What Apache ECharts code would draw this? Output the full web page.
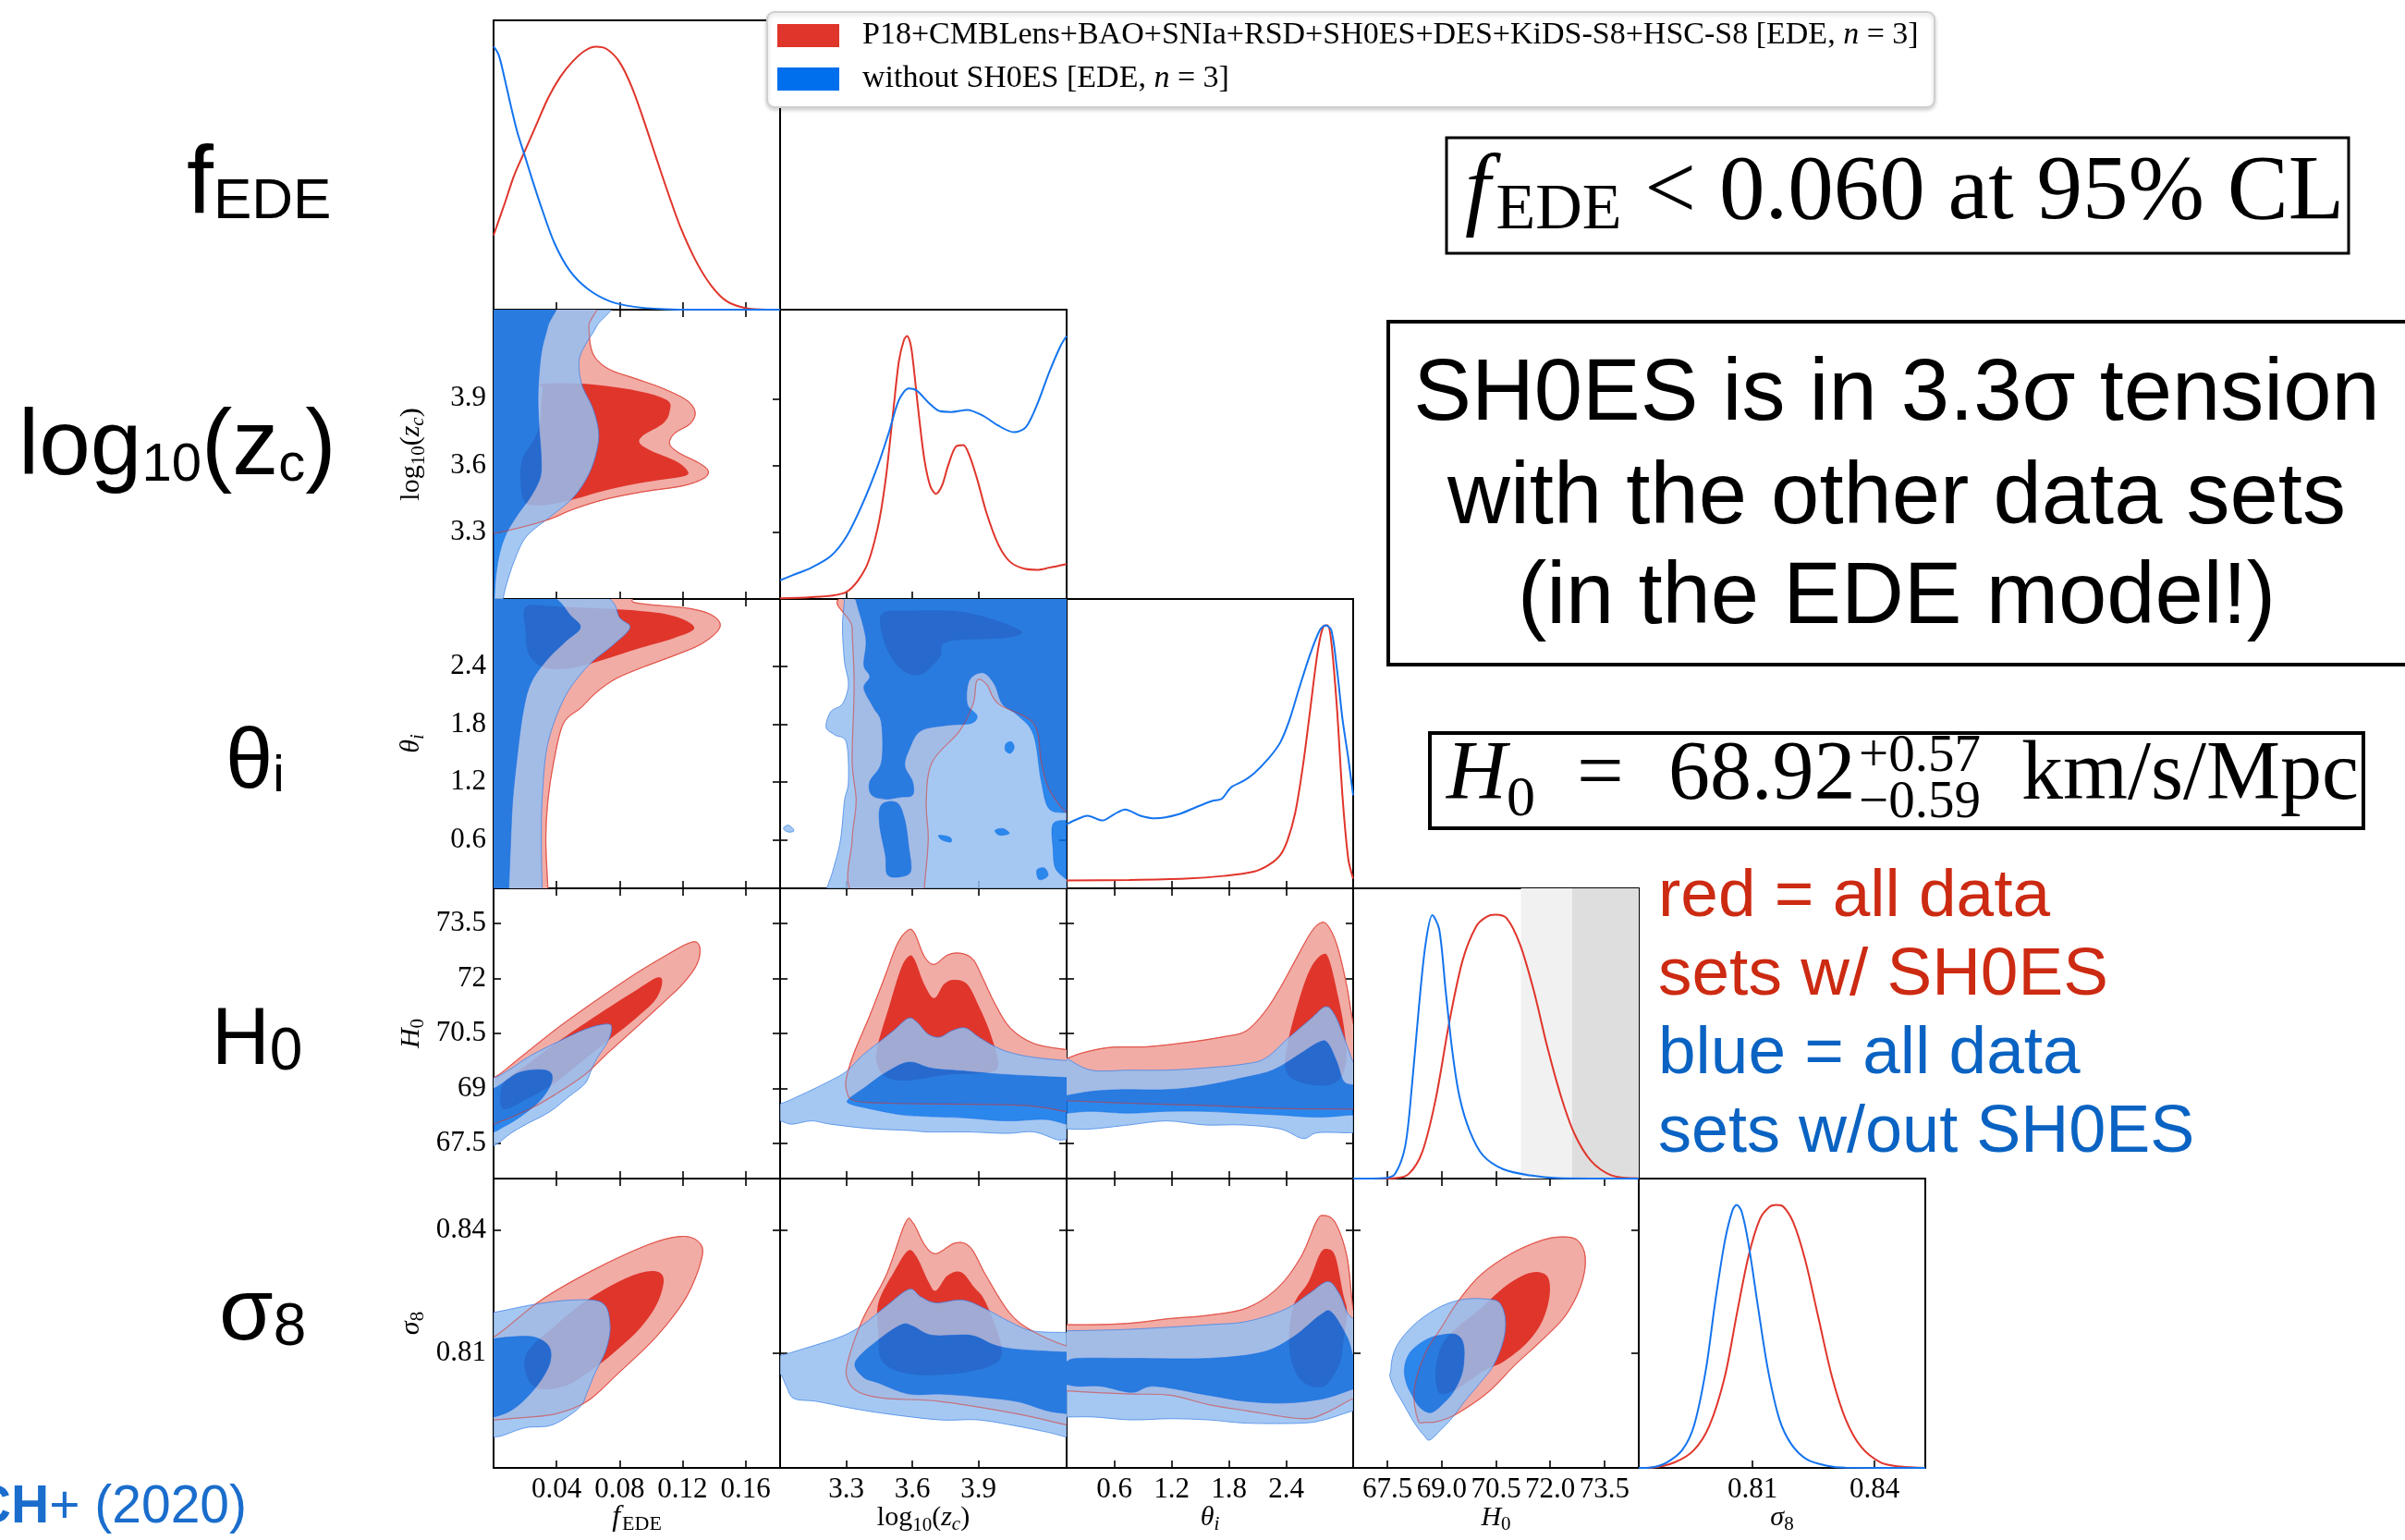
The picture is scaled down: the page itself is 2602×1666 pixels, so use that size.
<!DOCTYPE html>
<html>
<head>
<meta charset="utf-8">
<title>EDE triangle plot</title>
<script src="https://cdn.jsdelivr.net/npm/echarts@6/dist/echarts.min.js"></script>
<style>
  html, body { margin: 0; padding: 0; background: #ffffff; }
  #chart { width: 2602px; height: 1666px; }
</style>
</head>
<body>
<div id="chart"></div>
<script>
// ---------------------------------------------------------------------------
// Parameters, ranges and ticks
// ---------------------------------------------------------------------------
const PARAMS = ['fEDE', 'log10zc', 'thetai', 'H0', 'sigma8'];
const RANGE_MIN = [0, 3.0, 0.1, 66.55, 0.782];
const RANGE_MAX = [0.182, 4.3, 3.1, 74.45, 0.8525];
const DENSITY_MAX = 1.1;

const TICKS_FEDE = [0.04, 0.08, 0.12, 0.16];
const TICKS_LOGZC = [3.3, 3.6, 3.9];
const TICKS_THETA = [0.6, 1.2, 1.8, 2.4];
const TICKS_H0 = [67.5, 69.0, 70.5, 72.0, 73.5];
const TICKS_S8 = [0.81, 0.84];

const XLABELS_FEDE = ['0.04', '0.08', '0.12', '0.16'];
const XLABELS_LOGZC = ['3.3', '3.6', '3.9'];
const XLABELS_THETA = ['0.6', '1.2', '1.8', '2.4'];
const XLABELS_H0 = ['67.5', '69.0', '70.5', '72.0', '73.5'];
const XLABELS_S8 = ['0.81', '0.84'];
const YLABELS_H0 = ['67.5', '69', '70.5', '72', '73.5'];

// SH0ES measurement shown as grey bands on the H0 marginal
const SHOES_H0 = 74.03;
const SHOES_SIGMA = 1.42;

// ---------------------------------------------------------------------------
// 1D marginal posteriors (normalised to peak = 1)
// ---------------------------------------------------------------------------
const fede_red = [[0,0.283],[0.0072,0.406],[0.0131,0.511],[0.020,0.605],[0.0268,0.698],[0.0346,0.804],[0.0425,0.886],[0.0503,0.944],[0.0581,0.985],[0.065,1.0],[0.0718,0.991],[0.0797,0.944],[0.0875,0.851],[0.0953,0.722],[0.1031,0.581],[0.111,0.441],[0.1188,0.312],[0.1286,0.184],[0.1384,0.090],[0.1481,0.032],[0.160,0.006],[0.1736,0.0],[0.182,0.0]];
const fede_blue = [[0,1.0],[0.0033,0.968],[0.0072,0.874],[0.0112,0.769],[0.0151,0.675],[0.020,0.582],[0.0249,0.488],[0.0307,0.383],[0.0386,0.254],[0.0483,0.149],[0.060,0.078],[0.0738,0.032],[0.0894,0.011],[0.109,0.002],[0.1286,0.0],[0.182,0.0]];

const logzc_red = [[3.0,0.003],[3.1415,0.007],[3.3007,0.027],[3.389,0.119],[3.442,0.267],[3.4775,0.445],[3.513,0.711],[3.539,0.904],[3.562,0.985],[3.576,1.0],[3.59,0.975],[3.601,0.919],[3.628,0.711],[3.654,0.534],[3.681,0.43],[3.707,0.40],[3.734,0.43],[3.761,0.504],[3.796,0.578],[3.831,0.585],[3.858,0.548],[3.893,0.459],[3.937,0.326],[3.99,0.207],[4.044,0.141],[4.114,0.114],[4.167,0.111],[4.22,0.119],[4.3,0.133]];
const logzc_blue = [[3.0,0.071],[3.053,0.089],[3.142,0.119],[3.23,0.163],[3.301,0.237],[3.371,0.356],[3.442,0.504],[3.495,0.637],[3.539,0.756],[3.584,0.80],[3.619,0.793],[3.672,0.748],[3.725,0.714],[3.778,0.711],[3.849,0.719],[3.92,0.697],[3.99,0.659],[4.061,0.634],[4.114,0.652],[4.167,0.741],[4.22,0.86],[4.273,0.963],[4.3,1.0]];

const theta_red = [[0.1,0.030],[0.753,0.032],[1.347,0.037],[1.742,0.047],[2.059,0.063],[2.217,0.089],[2.336,0.126],[2.415,0.185],[2.494,0.288],[2.574,0.465],[2.653,0.687],[2.732,0.908],[2.791,0.997],[2.831,1.0],[2.871,0.938],[2.930,0.687],[2.989,0.347],[3.049,0.111],[3.1,0.037]];
const theta_blue = [[0.1,0.244],[0.199,0.261],[0.318,0.276],[0.476,0.258],[0.595,0.281],[0.713,0.300],[0.872,0.276],[1.030,0.266],[1.268,0.281],[1.465,0.310],[1.624,0.332],[1.723,0.340],[1.822,0.384],[1.940,0.406],[2.059,0.436],[2.217,0.495],[2.336,0.554],[2.435,0.642],[2.534,0.760],[2.653,0.893],[2.752,0.982],[2.811,1.0],[2.871,0.982],[2.930,0.834],[2.989,0.642],[3.049,0.495],[3.1,0.354]];

const h0_red = [[66.55,0],[67.71,0.002],[68.09,0.018],[68.46,0.10],[68.83,0.299],[69.21,0.593],[69.58,0.828],[69.96,0.957],[70.24,0.992],[70.48,1.0],[70.80,0.986],[71.17,0.886],[71.55,0.71],[71.92,0.499],[72.30,0.311],[72.67,0.17],[73.14,0.065],[73.70,0.012],[74.45,0.001]];
const h0_blue = [[66.55,0],[67.43,0.002],[67.71,0.018],[67.99,0.123],[68.18,0.358],[68.37,0.652],[68.55,0.886],[68.74,0.998],[68.93,0.945],[69.11,0.71],[69.30,0.475],[69.49,0.311],[69.77,0.182],[70.14,0.088],[70.71,0.035],[71.45,0.012],[72.2,0.002],[74.45,0]];

const s8_red = [[0.782,0],[0.7851,0.001],[0.7908,0.021],[0.7956,0.068],[0.7994,0.161],[0.8032,0.349],[0.8061,0.583],[0.809,0.805],[0.8118,0.946],[0.8142,0.993],[0.8159,1.0],[0.8176,0.993],[0.82,0.934],[0.8229,0.793],[0.8262,0.571],[0.8295,0.349],[0.8329,0.185],[0.8367,0.08],[0.8415,0.021],[0.8463,0.005],[0.8525,0]];
const s8_blue = [[0.782,0],[0.7851,0.002],[0.7889,0.021],[0.7927,0.068],[0.7956,0.161],[0.7985,0.372],[0.8008,0.63],[0.8032,0.864],[0.8051,0.981],[0.8061,1.0],[0.8073,0.975],[0.809,0.852],[0.8114,0.606],[0.8138,0.372],[0.8166,0.185],[0.8195,0.091],[0.8233,0.033],[0.8281,0.009],[0.8329,0.001],[0.8525,0]];

// ---------------------------------------------------------------------------
// 2D credible regions (68% and 95% contours), vertices in parameter space
// ---------------------------------------------------------------------------
// fEDE vs log10(zc)
const fede_logzc_red95 = [[-0.01,4.35],[0.0618,4.35],[0.0605,4.226],[0.063,4.104],[0.0729,4.034],[0.0903,3.99],[0.1076,3.946],[0.1225,3.894],[0.128,3.841],[0.125,3.788],[0.1151,3.745],[0.1118,3.697],[0.1176,3.657],[0.13,3.613],[0.1362,3.578],[0.1337,3.543],[0.12,3.508],[0.0952,3.482],[0.0704,3.447],[0.0506,3.403],[0.0357,3.359],[0.0159,3.319],[0,3.294],[-0.01,3.29]];
const fede_logzc_red68 = [[0.0308,3.967],[0.058,3.967],[0.0903,3.937],[0.1101,3.894],[0.1118,3.841],[0.1076,3.788],[0.0952,3.736],[0.0928,3.701],[0.1002,3.666],[0.1151,3.622],[0.1225,3.582],[0.1213,3.552],[0.0977,3.526],[0.0729,3.491],[0.0456,3.438],[0.0283,3.42],[0.0196,3.438],[0.0171,3.526],[0.0184,3.631],[0.0258,3.718],[0.0295,3.788],[0.0303,3.876],[0.0312,3.946]];
const fede_logzc_blue95 = [[-0.01,4.35],[0.0717,4.35],[0.0655,4.226],[0.058,4.139],[0.0543,4.069],[0.056,3.964],[0.063,3.858],[0.0667,3.753],[0.0655,3.666],[0.0605,3.561],[0.0506,3.456],[0.0357,3.368],[0.0208,3.28],[0.0134,3.175],[0.0084,3.07],[0.006,3.0],[0.005,2.95],[-0.01,2.95]];
const fede_logzc_blue68 = [[-0.01,4.35],[0.0382,4.35],[0.0345,4.226],[0.0303,4.104],[0.0283,3.929],[0.0288,3.788],[0.0303,3.631],[0.0295,3.543],[0.0233,3.456],[0.0159,3.385],[0.0084,3.298],[0.004,3.21],[0.0015,3.105],[0.0005,3.0],[0,2.95],[-0.01,2.95]];

// fEDE vs theta_i
const fede_theta_red95 = [[-0.01,3.15],[0.08,3.15],[0.0903,3.06],[0.125,3.0],[0.1399,2.92],[0.1436,2.8],[0.1324,2.637],[0.1151,2.516],[0.0952,2.395],[0.0779,2.275],[0.0655,2.134],[0.0556,1.973],[0.0444,1.811],[0.0382,1.409],[0.0345,1.006],[0.0332,0.603],[0.0345,0.1],[0.0345,0.05],[-0.01,0.05]];
const fede_theta_red68 = [[0.0208,3.02],[0.0407,3.02],[0.0903,2.98],[0.1151,2.92],[0.1275,2.8],[0.1151,2.697],[0.0903,2.577],[0.063,2.436],[0.0456,2.375],[0.0308,2.395],[0.0221,2.536],[0.0203,2.778]];
const fede_theta_blue95 = [[-0.01,3.15],[0.0655,3.15],[0.0804,2.9],[0.0866,2.8],[0.0754,2.617],[0.063,2.456],[0.0531,2.275],[0.0456,2.093],[0.0382,1.811],[0.0332,1.489],[0.0308,1.006],[0.0303,0.603],[0.0308,0.1],[0.0308,0.05],[-0.01,0.05]];
const fede_theta_blue68 = [[-0.01,3.15],[0.0332,3.15],[0.0494,2.92],[0.0551,2.8],[0.0456,2.657],[0.0332,2.456],[0.0233,2.214],[0.0184,1.892],[0.0146,1.409],[0.0121,1.006],[0.0109,0.603],[0.0097,0.1],[0.0097,0.05],[-0.01,0.05]];

// log10(zc) vs theta_i
const logzc_theta_red95 = [[3.336,3.15],[4.35,3.15],[4.35,0.885],[4.3,0.885],[4.22,1.127],[4.185,1.409],[4.15,1.811],[3.99,2.013],[3.937,2.214],[3.893,2.254],[3.876,2.013],[3.814,1.731],[3.69,1.409],[3.663,1.006],[3.672,0.603],[3.654,0.1],[3.654,0.05],[3.333,0.05],[3.327,0.603],[3.345,1.006],[3.327,1.409],[3.336,2.214],[3.327,2.8]];
const logzc_theta_red68 = [[3.46,2.939],[3.584,2.979],[3.849,2.959],[4.088,2.778],[4.026,2.697],[3.761,2.657],[3.725,2.496],[3.637,2.315],[3.548,2.375],[3.478,2.617]];
const logzc_theta_blue95 = [[3.292,3.15],[3.292,3.08],[3.283,2.818],[3.292,2.456],[3.31,2.214],[3.283,2.013],[3.23,1.932],[3.209,1.771],[3.248,1.691],[3.301,1.61],[3.31,1.207],[3.292,1.006],[3.274,0.603],[3.239,0.281],[3.212,0.1],[3.21,0.05],[4.35,0.05],[4.35,3.15]];
const logzc_theta_blue95_islet = [[3.015,0.72],[3.035,0.755],[3.058,0.72],[3.06,0.69],[3.035,0.685]];
const logzc_theta_blue68 = [[3.345,3.15],[3.345,3.08],[3.389,2.697],[3.38,2.416],[3.407,2.295],[3.38,2.174],[3.424,1.973],[3.46,1.811],[3.46,1.409],[3.407,1.207],[3.416,1.067],[3.478,1.026],[3.548,1.046],[3.601,1.067],[3.601,1.207],[3.566,1.368],[3.584,1.53],[3.637,1.731],[3.761,1.791],[3.867,1.811],[3.893,1.892],[3.849,2.013],[3.858,2.254],[3.92,2.335],[3.973,2.214],[4.008,2.013],[4.079,1.892],[4.15,1.691],[4.185,1.207],[4.22,0.926],[4.3,0.885],[4.35,0.885],[4.35,3.15]];
const logzc_theta_blue68_lobe = [[3.46,0.966],[3.531,0.986],[3.566,0.805],[3.584,0.523],[3.593,0.281],[3.548,0.221],[3.487,0.241],[3.478,0.442],[3.451,0.765]];
const logzc_theta_blue68_edge = [[4.238,0.765],[4.3,0.805],[4.35,0.805],[4.35,0.2],[4.256,0.281],[4.238,0.523]];
const logzc_theta_blue68_spot1 = [[4.025,1.6],[4.05,1.62],[4.062,1.56],[4.045,1.5],[4.022,1.53]];
const logzc_theta_blue68_spot2 = [[3.975,0.7],[4.01,0.72],[4.04,0.67],[3.995,0.65]];
const logzc_theta_blue68_spot3 = [[4.165,0.29],[4.2,0.31],[4.215,0.23],[4.175,0.19]];
const logzc_theta_blue68_spot4 = [[3.72,0.65],[3.77,0.63],[3.775,0.58],[3.735,0.6]];

// fEDE vs H0
const fede_h0_red95 = [[-0.01,69.4],[0,69.3],[0.0159,69.81],[0.0407,70.65],[0.0655,71.41],[0.0903,72.13],[0.1101,72.64],[0.1225,72.93],[0.1287,72.99],[0.1312,72.76],[0.1287,72.34],[0.12,71.84],[0.1076,71.33],[0.0903,70.65],[0.0729,69.98],[0.058,69.38],[0.0407,68.88],[0.0233,68.45],[0,68.03],[-0.01,67.95]];
const fede_h0_red68 = [[0.006,69.13],[0.0208,69.64],[0.0407,70.27],[0.0655,70.99],[0.0903,71.67],[0.1039,72.02],[0.1071,71.88],[0.1027,71.41],[0.0903,70.91],[0.0729,70.31],[0.0556,69.72],[0.0382,69.13],[0.0208,68.71],[0.006,68.45]];
const fede_h0_blue95 = [[-0.01,69.35],[0,69.3],[0.0084,69.47],[0.0233,69.89],[0.0407,70.27],[0.058,70.61],[0.0704,70.75],[0.0749,70.69],[0.0729,70.31],[0.0655,69.81],[0.0618,69.47],[0.058,69.13],[0.0481,68.79],[0.0357,68.37],[0.0208,68.03],[0.0109,67.78],[0,67.44],[-0.01,67.4]];
const fede_h0_blue68 = [[-0.01,69.05],[0,69.0],[0.0159,69.43],[0.0308,69.51],[0.037,69.38],[0.0357,69.05],[0.0283,68.62],[0.0159,68.2],[0.006,67.95],[0,67.82],[-0.01,67.8]];

// log10(zc) vs H0
const logzc_h0_red95 = [[3.301,69.3],[3.336,69.98],[3.407,70.99],[3.478,72.09],[3.531,72.93],[3.58,73.31],[3.61,73.23],[3.654,72.6],[3.699,72.38],[3.761,72.64],[3.822,72.68],[3.876,72.51],[3.92,72.0],[3.973,71.33],[4.044,70.65],[4.15,70.23],[4.3,70.06],[4.35,70.06],[4.35,68.37],[4.3,68.37],[4.114,68.54],[3.761,68.58],[3.495,68.6],[3.336,68.67],[3.301,68.96]];
const logzc_h0_red68 = [[3.442,70.15],[3.495,71.24],[3.548,72.26],[3.584,72.6],[3.61,72.51],[3.654,71.84],[3.699,71.46],[3.743,71.84],[3.787,71.96],[3.849,71.84],[3.902,71.24],[3.955,70.48],[3.99,69.64],[3.937,69.43],[3.761,69.38],[3.584,69.22],[3.486,69.3],[3.442,69.64]];
const logzc_h0_blue95 = [[2.95,68.5],[3.0,68.58],[3.053,68.71],[3.142,68.96],[3.23,69.22],[3.301,69.47],[3.371,69.89],[3.442,70.23],[3.513,70.57],[3.58,70.91],[3.619,70.82],[3.672,70.48],[3.725,70.4],[3.778,70.57],[3.84,70.65],[3.902,70.4],[3.973,70.15],[4.044,69.98],[4.15,69.85],[4.3,69.76],[4.35,69.76],[4.35,67.55],[4.3,67.61],[4.256,67.61],[4.15,67.82],[4.026,67.78],[3.849,67.82],[3.672,67.82],[3.584,67.86],[3.407,67.91],[3.23,68.03],[3.142,68.12],[3.053,68.03],[3.0,68.12],[2.95,68.12]];
const logzc_h0_blue68 = [[3.31,68.71],[3.389,69.05],[3.478,69.43],[3.584,69.72],[3.69,69.55],[3.849,69.47],[4.026,69.38],[4.3,69.3],[4.35,69.3],[4.35,68.03],[4.3,68.03],[4.202,68.16],[4.026,68.12],[3.849,68.2],[3.672,68.24],[3.548,68.29],[3.407,68.45],[3.318,68.58]];

// theta_i vs H0
const theta_h0_red95 = [[0.05,69.82],[0.1,69.82],[0.278,69.98],[0.555,70.12],[0.951,70.14],[1.347,70.25],[1.742,70.41],[1.98,70.57],[2.178,71.1],[2.336,71.74],[2.494,72.49],[2.653,73.23],[2.752,73.5],[2.831,73.45],[2.93,72.91],[3.029,71.85],[3.1,70.78],[3.15,70.5],[3.15,68.4],[3.1,68.44],[2.336,68.46],[1.545,68.54],[0.753,68.6],[0.1,68.67],[0.05,68.67]];
const theta_h0_red68 = [[2.415,70.25],[2.534,71.42],[2.653,72.27],[2.779,72.65],[2.851,72.49],[2.95,71.42],[3.009,70.57],[3.029,69.82],[2.969,69.29],[2.811,69.08],[2.534,69.18],[2.395,69.5]];
const theta_h0_blue95 = [[0.05,69.82],[0.1,69.82],[0.357,69.5],[0.753,69.5],[1.149,69.5],[1.545,69.56],[1.94,69.66],[2.178,69.82],[2.415,70.36],[2.653,70.89],[2.811,71.23],[2.91,70.99],[3.009,70.36],[3.1,69.72],[3.15,69.6],[3.15,67.9],[3.1,67.8],[2.732,67.8],[2.574,67.64],[2.336,67.9],[1.94,68.01],[1.545,68.01],[1.149,68.12],[0.753,68.01],[0.357,67.9],[0.1,67.9],[0.05,67.9]];
const theta_h0_blue68 = [[0.05,68.81],[0.1,68.81],[0.357,68.92],[0.674,68.97],[1.149,68.97],[1.545,69.08],[1.94,69.29],[2.257,69.5],[2.534,69.93],[2.732,70.25],[2.831,70.25],[2.93,69.72],[3.0,69.2],[3.1,69.1],[3.15,69.1],[3.15,68.2],[3.1,68.28],[2.732,68.22],[2.336,68.28],[1.94,68.33],[1.545,68.38],[1.149,68.38],[0.753,68.33],[0.357,68.38],[0.1,68.33],[0.05,68.33]];

// fEDE vs sigma8
const fede_s8_red95 = [[-0.01,0.8145],[0,0.8139],[0.0302,0.8229],[0.0642,0.8304],[0.0983,0.8364],[0.1187,0.8384],[0.1299,0.8372],[0.1324,0.8334],[0.1226,0.8237],[0.1032,0.8139],[0.0788,0.8049],[0.0594,0.7982],[0.0399,0.7952],[0.0204,0.7943],[0,0.7937],[-0.01,0.7935]];
const fede_s8_red68 = [[0.0204,0.8094],[0.0399,0.8169],[0.0594,0.8229],[0.0837,0.8282],[0.1007,0.83],[0.108,0.8282],[0.1041,0.8222],[0.0934,0.8162],[0.0788,0.8109],[0.0642,0.8064],[0.0448,0.8019],[0.0253,0.8019]];
const fede_s8_blue95 = [[-0.01,0.82],[0,0.8199],[0.0253,0.8218],[0.0496,0.8229],[0.0691,0.8222],[0.074,0.8169],[0.0715,0.8109],[0.0642,0.8049],[0.0594,0.8004],[0.0545,0.7967],[0.0375,0.7925],[0.0204,0.7918],[0.0058,0.7899],[0,0.7895],[-0.01,0.789]];
const fede_s8_blue68 = [[-0.01,0.8135],[0,0.8135],[0.0107,0.8139],[0.0253,0.8139],[0.035,0.8117],[0.036,0.8079],[0.0302,0.8034],[0.0204,0.7989],[0.0107,0.7959],[0,0.7944],[-0.01,0.794]];

// log10(zc) vs sigma8
const logzc_s8_red95 = [[3.307,0.8079],[3.376,0.8184],[3.481,0.8289],[3.568,0.8417],[3.603,0.8417],[3.655,0.8364],[3.707,0.8342],[3.795,0.8368],[3.864,0.8357],[3.934,0.8289],[4.039,0.8199],[4.143,0.8154],[4.3,0.8117],[4.35,0.8117],[4.35,0.7925],[4.3,0.7925],[4.073,0.7952],[3.725,0.7982],[3.481,0.7989],[3.359,0.8004],[3.307,0.8034]];
const logzc_s8_red68 = [[3.446,0.8222],[3.516,0.8297],[3.579,0.8349],[3.62,0.8334],[3.673,0.8274],[3.707,0.8252],[3.76,0.8289],[3.822,0.8297],[3.882,0.8259],[3.934,0.8222],[4.004,0.8117],[3.969,0.8072],[3.795,0.8049],[3.585,0.8049],[3.464,0.8079],[3.446,0.8147]];
const logzc_s8_blue95 = [[2.95,0.8094],[3.0,0.8094],[3.098,0.8109],[3.272,0.8139],[3.376,0.8169],[3.481,0.8214],[3.585,0.8255],[3.638,0.8237],[3.707,0.8222],[3.829,0.8229],[3.934,0.8207],[4.039,0.8177],[4.143,0.8154],[4.3,0.815],[4.35,0.815],[4.35,0.789],[4.3,0.7895],[4.213,0.7907],[4.073,0.7922],[3.899,0.7937],[3.725,0.7937],[3.481,0.7952],[3.307,0.7967],[3.167,0.7982],[3.063,0.7989],[3.028,0.8019],[3.0,0.8049],[2.95,0.8049]];
const logzc_s8_blue68 = [[3.342,0.8079],[3.446,0.8132],[3.551,0.8169],[3.603,0.8165],[3.69,0.8143],[3.864,0.8143],[3.969,0.812],[4.073,0.8109],[4.3,0.8102],[4.35,0.8102],[4.35,0.7945],[4.3,0.7952],[4.213,0.7959],[4.073,0.7982],[3.899,0.7993],[3.725,0.8],[3.585,0.8],[3.446,0.8027],[3.376,0.8042]];

// theta_i vs sigma8
const theta_s8_red95 = [[0.05,0.8169],[0.1,0.8169],[0.382,0.8169],[0.784,0.8173],[1.186,0.8184],[1.588,0.8192],[1.99,0.821],[2.312,0.8259],[2.553,0.8334],[2.714,0.842],[2.794,0.8435],[2.915,0.8417],[3.036,0.8334],[3.1,0.8207],[3.15,0.8207],[3.15,0.7985],[3.1,0.7989],[2.794,0.7952],[2.553,0.794],[1.99,0.7959],[1.588,0.7974],[1.186,0.7997],[0.784,0.8],[0.382,0.8004],[0.1,0.8008],[0.05,0.8008]];
const theta_s8_red68 = [[2.473,0.8214],[2.634,0.8274],[2.754,0.8342],[2.835,0.8353],[2.915,0.8334],[2.995,0.8244],[3.036,0.8199],[2.995,0.8124],[2.955,0.8072],[2.794,0.8019],[2.553,0.8034],[2.432,0.8109]];
const theta_s8_blue95 = [[0.05,0.8154],[0.1,0.8154],[0.784,0.8158],[1.588,0.8169],[1.99,0.8177],[2.392,0.8207],[2.634,0.8244],[2.835,0.8274],[2.955,0.8244],[3.036,0.8199],[3.1,0.8184],[3.15,0.8184],[3.15,0.7955],[3.1,0.7959],[2.794,0.7937],[2.553,0.7929],[1.99,0.7929],[1.588,0.7937],[1.186,0.794],[0.784,0.7937],[0.382,0.7944],[0.1,0.7944],[0.05,0.7944]];
const theta_s8_blue68 = [[0.05,0.8079],[0.1,0.8079],[0.221,0.8087],[0.784,0.8087],[1.588,0.8087],[2.151,0.8102],[2.473,0.8139],[2.754,0.8192],[2.875,0.8199],[3.036,0.8139],[3.1,0.8094],[3.15,0.8094],[3.15,0.8012],[3.1,0.8012],[2.794,0.7989],[2.392,0.7978],[1.99,0.7982],[1.588,0.7997],[1.025,0.8019],[0.784,0.8004],[0.462,0.8019],[0.221,0.8019],[0.1,0.8023],[0.05,0.8023]];

// H0 vs sigma8
const h0_s8_red95 = [[68.34,0.7937],[68.24,0.8012],[68.56,0.8102],[68.99,0.8162],[69.42,0.8222],[70.06,0.8289],[70.92,0.8342],[71.78,0.8375],[72.32,0.8383],[72.75,0.8375],[72.97,0.8334],[72.86,0.8267],[72.43,0.8192],[71.78,0.8132],[71.03,0.8071],[70.28,0.8004],[69.42,0.7952],[68.88,0.7933],[68.56,0.7931]];
const h0_s8_red68 = [[68.83,0.8057],[68.99,0.8117],[69.42,0.8162],[70.06,0.8207],[70.71,0.8259],[71.25,0.8289],[71.68,0.8297],[71.95,0.8282],[71.98,0.8237],[71.78,0.8177],[71.35,0.8124],[70.71,0.8079],[70.17,0.8057],[69.42,0.8012],[68.99,0.8],[68.86,0.8019]];
const h0_s8_blue95 = [[67.59,0.8057],[67.65,0.8094],[67.86,0.8132],[68.34,0.8177],[68.99,0.8214],[69.63,0.8231],[70.28,0.8231],[70.6,0.8222],[70.76,0.8184],[70.71,0.8132],[70.44,0.8071],[70.06,0.8027],[69.63,0.7982],[69.31,0.7944],[68.99,0.7914],[68.67,0.7888],[68.51,0.7899],[68.24,0.793],[67.9,0.7982],[67.7,0.8012],[67.57,0.8042]];
const h0_s8_blue68 = [[67.97,0.8064],[68.13,0.8102],[68.56,0.8132],[68.99,0.8144],[69.42,0.8144],[69.61,0.8117],[69.58,0.8057],[69.37,0.8012],[69.1,0.7982],[68.72,0.7955],[68.4,0.7967],[68.18,0.7997],[68.02,0.8027]];

// ---------------------------------------------------------------------------
// Assemble per-panel data
// ---------------------------------------------------------------------------
const TICKS = [TICKS_FEDE, TICKS_LOGZC, TICKS_THETA, TICKS_H0, TICKS_S8];
const XLABELS = [XLABELS_FEDE, XLABELS_LOGZC, XLABELS_THETA, XLABELS_H0, XLABELS_S8];
const YLABELS = [XLABELS_FEDE, XLABELS_LOGZC, XLABELS_THETA, YLABELS_H0, XLABELS_S8];
const MARGINALS = [[fede_red, fede_blue], [logzc_red, logzc_blue], [theta_red, theta_blue], [h0_red, h0_blue], [s8_red, s8_blue]];
const CONTOURS = {
  '1-0': { red95: [fede_logzc_red95], red68: [fede_logzc_red68], blue95: [fede_logzc_blue95], blue68: [fede_logzc_blue68] },
  '2-0': { red95: [fede_theta_red95], red68: [fede_theta_red68], blue95: [fede_theta_blue95], blue68: [fede_theta_blue68] },
  '2-1': { red95: [logzc_theta_red95], red68: [logzc_theta_red68], blue95: [logzc_theta_blue95, logzc_theta_blue95_islet],
           blue68: [logzc_theta_blue68, logzc_theta_blue68_lobe, logzc_theta_blue68_edge, logzc_theta_blue68_spot1, logzc_theta_blue68_spot2, logzc_theta_blue68_spot3, logzc_theta_blue68_spot4] },
  '3-0': { red95: [fede_h0_red95], red68: [fede_h0_red68], blue95: [fede_h0_blue95], blue68: [fede_h0_blue68] },
  '3-1': { red95: [logzc_h0_red95], red68: [logzc_h0_red68], blue95: [logzc_h0_blue95], blue68: [logzc_h0_blue68] },
  '3-2': { red95: [theta_h0_red95], red68: [theta_h0_red68], blue95: [theta_h0_blue95], blue68: [theta_h0_blue68] },
  '4-0': { red95: [fede_s8_red95], red68: [fede_s8_red68], blue95: [fede_s8_blue95], blue68: [fede_s8_blue68] },
  '4-1': { red95: [logzc_s8_red95], red68: [logzc_s8_red68], blue95: [logzc_s8_blue95], blue68: [logzc_s8_blue68] },
  '4-2': { red95: [theta_s8_red95], red68: [theta_s8_red68], blue95: [theta_s8_blue95], blue68: [theta_s8_blue68] },
  '4-3': { red95: [h0_s8_red95], red68: [h0_s8_red68], blue95: [h0_s8_blue95], blue68: [h0_s8_blue68] }
};

// ---------------------------------------------------------------------------
// Styling and layout
// ---------------------------------------------------------------------------
const COL_EDGES = [534, 844, 1154, 1464, 1773, 2083];
const ROW_EDGES = [22, 335, 648, 961, 1275, 1588];
const FONT_SANS = '"Liberation Sans", Arial, Helvetica, sans-serif';
const FONT_SERIF = '"Liberation Serif", "Times New Roman", serif';

const RED_LINE = '#e0352b';
const BLUE_LINE = '#1474ee';
const RED_95 = '#f1aca6';
const RED_68 = '#e0352b';
const BLUE_95 = 'rgba(149,190,241,0.85)';
const BLUE_68 = 'rgba(6,114,233,0.85)';
const BLUE_EDGE = 'rgba(60,130,230,0.75)';
const RED_EDGE = 'rgba(224,60,50,0.55)';

// ---------------------------------------------------------------------------
// Helpers
// ---------------------------------------------------------------------------
function signedArea(pts) {
  let s = 0;
  for (let i = 0; i < pts.length; i++) {
    const a = pts[i], b = pts[(i + 1) % pts.length];
    s += a[0] * b[1] - b[0] * a[1];
  }
  return s / 2;
}
// Closed Catmull-Rom curve through the ring, with a chosen winding
function smoothRing(pts, positive) {
  if ((signedArea(pts) > 0) !== positive) pts = pts.slice().reverse();
  const n = pts.length, k = 1 / 6, f = v => v.toFixed(2);
  let d = 'M' + f(pts[0][0]) + ' ' + f(pts[0][1]);
  for (let i = 0; i < n; i++) {
    const p0 = pts[(i - 1 + n) % n], p1 = pts[i], p2 = pts[(i + 1) % n], p3 = pts[(i + 2) % n];
    d += 'C' + f(p1[0] + (p2[0] - p0[0]) * k) + ' ' + f(p1[1] + (p2[1] - p0[1]) * k) + ' ' +
         f(p2[0] - (p3[0] - p1[0]) * k) + ' ' + f(p2[1] - (p3[1] - p1[1]) * k) + ' ' +
         f(p2[0]) + ' ' + f(p2[1]);
  }
  return d + 'Z';
}
function ringsPath(api, rings, positive) {
  return rings.map(r => smoothRing(r.map(p => api.coord(p)), positive)).join(' ');
}

function contourLayer(xi, yi, c, r, spec, layer) {
  return {
    type: 'custom', xAxisIndex: xi, yAxisIndex: yi, clip: true, silent: true,
    z: layer === 'red' ? 2 : (layer === 'blue' ? 3 : 4),
    data: [[RANGE_MIN[c], RANGE_MIN[r]]],
    renderItem: function (params, api) {
      if (layer === 'red') {
        return { type: 'group', children: [
          { type: 'path', shape: { pathData: ringsPath(api, spec.red95, true) }, style: { fill: RED_95, stroke: '#e46a60', lineWidth: 1 } },
          { type: 'path', shape: { pathData: ringsPath(api, spec.red68, true) }, style: { fill: RED_68 } }
        ] };
      }
      if (layer === 'blue') {
        const band = ringsPath(api, spec.blue95, true) + ' ' + ringsPath(api, spec.blue68, false);
        return { type: 'group', children: [
          { type: 'path', shape: { pathData: band }, style: { fill: BLUE_95, stroke: BLUE_EDGE, lineWidth: 1 } },
          { type: 'path', shape: { pathData: ringsPath(api, spec.blue68, true) }, style: { fill: BLUE_68 } }
        ] };
      }
      return { type: 'path', shape: { pathData: ringsPath(api, spec.red95, true) }, style: { fill: 'none', stroke: RED_EDGE, lineWidth: 1.2 } };
    }
  };
}

function labelFormatter(values, labels) {
  return function (v) {
    const i = values.findIndex(t => Math.abs(t - v) < 1e-9);
    return i >= 0 ? labels[i] : '';
  };
}

function makeAxis(g, position, min, max, ticks, showTicks, labels) {
  return {
    type: 'value', gridIndex: g, position: position, min: min, max: max,
    axisLine: { show: true, onZero: false, lineStyle: { color: '#000', width: 2 } },
    axisTick: { show: showTicks, inside: true, length: 8, lineStyle: { color: '#000', width: 1.6 }, customValues: ticks || undefined },
    axisLabel: labels ? {
      show: true, customValues: ticks, formatter: labelFormatter(ticks, labels),
      margin: 8, color: '#000', fontFamily: FONT_SERIF, fontSize: 31
    } : { show: false },
    splitLine: { show: false }
  };
}

// Text measuring for hand-laid sub/superscripts
const measureCtx = document.createElement('canvas').getContext('2d');
function textWidth(str, size, family, italic, bold) {
  measureCtx.font = (italic ? 'italic ' : '') + (bold ? 'bold ' : '') + size + 'px ' + family;
  return measureCtx.measureText(str).width;
}
// Lays out text runs on a common baseline; returns graphic text elements
function runs(x, baseline, parts, family, color, align) {
  const widths = parts.map(p => textWidth(p.t, p.s, family, p.italic, p.bold) + (p.dx || 0) + (p.after || 0));
  const total = widths.reduce((a, b) => a + b, 0);
  let cx = align === 'center' ? x - total / 2 : (align === 'right' ? x - total : x);
  return parts.map((p, i) => {
    const el = {
      type: 'text', z: 100, silent: true,
      x: cx + (p.dx || 0), y: baseline + (p.dy || 0) - 0.34 * p.s,
      style: {
        text: p.t, fontSize: p.s, fontFamily: family,
        fontStyle: p.italic ? 'italic' : 'normal', fontWeight: p.bold ? 'bold' : 'normal',
        fill: color, align: 'left', verticalAlign: 'middle'
      }
    };
    cx += widths[i];
    return el;
  });
}

// ---------------------------------------------------------------------------
// Grids, axes, series
// ---------------------------------------------------------------------------
const grids = [], xAxes = [], yAxes = [], series = [];
for (let r = 0; r < 5; r++) {
  for (let c = 0; c <= r; c++) {
    const g = grids.length;
    const diag = r === c;
    grids.push({
      left: COL_EDGES[c], top: ROW_EDGES[r],
      width: COL_EDGES[c + 1] - COL_EDGES[c], height: ROW_EDGES[r + 1] - ROW_EDGES[r]
    });
    const xi = xAxes.length;
    xAxes.push(makeAxis(g, 'bottom', RANGE_MIN[c], RANGE_MAX[c], TICKS[c], true, r === 4 ? XLABELS[c] : null));
    xAxes.push(makeAxis(g, 'top', RANGE_MIN[c], RANGE_MAX[c], TICKS[c], !diag, null));
    const yi = yAxes.length;
    if (diag) {
      yAxes.push(makeAxis(g, 'left', 0, DENSITY_MAX, null, false, null));
      yAxes.push(makeAxis(g, 'right', 0, DENSITY_MAX, null, false, null));
      const [red, blue] = MARGINALS[c];
      const redSeries = {
        type: 'line', xAxisIndex: xi, yAxisIndex: yi, data: red, smooth: 0.3, symbol: 'none',
        silent: true, z: 3, lineStyle: { color: RED_LINE, width: 2 }
      };
      if (PARAMS[c] === 'H0') {
        redSeries.markArea = {
          silent: true,
          data: [
            [{ xAxis: SHOES_H0 - 2 * SHOES_SIGMA, itemStyle: { color: '#f1f1f1', opacity: 1 } }, { xAxis: Math.min(SHOES_H0 + 2 * SHOES_SIGMA, RANGE_MAX[3]) }],
            [{ xAxis: SHOES_H0 - SHOES_SIGMA, itemStyle: { color: '#dedede', opacity: 1 } }, { xAxis: Math.min(SHOES_H0 + SHOES_SIGMA, RANGE_MAX[3]) }]
          ]
        };
      }
      series.push(redSeries);
      series.push({
        type: 'line', xAxisIndex: xi, yAxisIndex: yi, data: blue, smooth: 0.3, symbol: 'none',
        silent: true, z: 4, lineStyle: { color: BLUE_LINE, width: 2 }
      });
    } else {
      yAxes.push(makeAxis(g, 'left', RANGE_MIN[r], RANGE_MAX[r], TICKS[r], true, c === 0 ? YLABELS[r] : null));
      yAxes.push(makeAxis(g, 'right', RANGE_MIN[r], RANGE_MAX[r], TICKS[r], true, null));
      const spec = CONTOURS[r + '-' + c];
      series.push(contourLayer(xi, yi, c, r, spec, 'red'));
      series.push(contourLayer(xi, yi, c, r, spec, 'blue'));
      series.push(contourLayer(xi, yi, c, r, spec, 'outline'));
    }
  }
}

// ---------------------------------------------------------------------------
// Text annotations
// ---------------------------------------------------------------------------
const graphics = [];
const push = arr => arr.forEach(e => graphics.push(e));

// Row names on the far left
push(runs(202, 237, [{ t: 'f', s: 104 }, { t: 'EDE', s: 62, dy: 3 }], FONT_SANS, '#000', 'left'));
push(runs(20, 519, [{ t: 'log', s: 100 }, { t: '10', s: 58, dy: 5 }, { t: '(z', s: 100 }, { t: 'c', s: 58, dy: 5 }, { t: ')', s: 100 }], FONT_SANS, '#000', 'left'));
push(runs(244, 858, [{ t: 'θ', s: 92 }, { t: 'i', s: 56, dy: 2 }], FONT_SANS, '#000', 'left'));
push(runs(229, 1157, [{ t: 'H', s: 87 }, { t: '0', s: 64, dy: 4 }], FONT_SANS, '#000', 'left'));
push(runs(237, 1455, [{ t: 'σ', s: 95 }, { t: '8', s: 64, dy: 4 }], FONT_SANS, '#000', 'left'));

// Axis titles
const AXIS_TITLES = [
  [{ t: 'f', s: 32, italic: true, after: 2 }, { t: 'EDE', s: 22, dy: 5 }],
  [{ t: 'log', s: 30 }, { t: '10', s: 21, dy: 6 }, { t: '(', s: 30 }, { t: 'z', s: 30, italic: true }, { t: 'c', s: 21, italic: true, dy: 5 }, { t: ')', s: 30 }],
  [{ t: 'θ', s: 30, italic: true }, { t: 'i', s: 21, italic: true, dy: 5 }],
  [{ t: 'H', s: 30, italic: true }, { t: '0', s: 21, dy: 5 }],
  [{ t: 'σ', s: 30, italic: true }, { t: '8', s: 21, dy: 5 }]
];
for (let c = 0; c < 5; c++) {
  push(runs((COL_EDGES[c] + COL_EDGES[c + 1]) / 2, 1652, AXIS_TITLES[c], FONT_SERIF, '#000', 'center'));
}
for (let r = 1; r < 5; r++) {
  graphics.push({
    type: 'group', x: 455, y: (ROW_EDGES[r] + ROW_EDGES[r + 1]) / 2, rotation: Math.PI / 2, z: 100,
    children: runs(0, 0, AXIS_TITLES[r], FONT_SERIF, '#000', 'center')
  });
}

// Legend
graphics.push({ type: 'rect', z: 100, silent: true, shape: { x: 830, y: 13, width: 1263, height: 103, r: 8 },
  style: { fill: '#fff', stroke: '#cfcfcf', lineWidth: 2, shadowBlur: 4, shadowColor: 'rgba(0,0,0,0.18)', shadowOffsetY: 2 } });
graphics.push({ type: 'rect', z: 101, silent: true, shape: { x: 841, y: 26, width: 67, height: 25 }, style: { fill: '#e0352b' } });
graphics.push({ type: 'rect', z: 101, silent: true, shape: { x: 841, y: 73, width: 67, height: 25 }, style: { fill: '#006fed' } });
push(runs(933, 50, [{ t: 'P18+CMBLens+BAO+SNIa+RSD+SH0ES+DES+KiDS-S8+HSC-S8 [EDE, ', s: 34 }, { t: 'n', s: 34, italic: true }, { t: ' = 3]', s: 34 }], FONT_SERIF, '#000', 'left'));
push(runs(933, 97, [{ t: 'without SH0ES [EDE, ', s: 34 }, { t: 'n', s: 34, italic: true }, { t: ' = 3]', s: 34 }], FONT_SERIF, '#000', 'left'));

// f_EDE bound box
graphics.push({ type: 'rect', z: 100, silent: true, shape: { x: 1565, y: 149, width: 976, height: 125 }, style: { fill: '#fff', stroke: '#000', lineWidth: 3 } });
push(runs(1585, 244, [{ t: 'f', s: 99, italic: true, after: 6 }, { t: 'EDE', s: 70, dy: 8 }, { t: ' < 0.060 at 95% CL', s: 99 }], FONT_SERIF, '#000', 'left'));

// Tension box
graphics.push({ type: 'rect', z: 100, silent: true, shape: { x: 1502, y: 348, width: 1120, height: 371 }, style: { fill: '#fff', stroke: '#000', lineWidth: 4 } });
push(runs(2052, 460, [{ t: 'SH0ES is in 3.3σ tension', s: 94 }], FONT_SANS, '#000', 'center'));
push(runs(2052, 572, [{ t: 'with the other data sets', s: 94 }], FONT_SANS, '#000', 'center'));
push(runs(2052, 680, [{ t: '(in the EDE model!)', s: 94 }], FONT_SANS, '#000', 'center'));

// H0 result box
graphics.push({ type: 'rect', z: 100, silent: true, shape: { x: 1547, y: 793, width: 1010, height: 103 }, style: { fill: '#fff', stroke: '#000', lineWidth: 4 } });
push(runs(1565, 871, [{ t: 'H', s: 90, italic: true }, { t: '0', s: 62, dy: 16 }], FONT_SERIF, '#000', 'left'));
push(runs(1706, 871, [{ t: '=', s: 90 }], FONT_SERIF, '#000', 'left'));
push(runs(1805, 871, [{ t: '68.92', s: 90 }], FONT_SERIF, '#000', 'left'));
push(runs(2011, 838, [{ t: '+0.57', s: 57 }], FONT_SERIF, '#000', 'left'));
push(runs(2011, 888, [{ t: '−0.59', s: 57 }], FONT_SERIF, '#000', 'left'));
push(runs(2187, 871, [{ t: 'km/s/Mpc', s: 90 }], FONT_SERIF, '#000', 'left'));

// Colour key
push(runs(1794, 996, [{ t: 'red = all data', s: 73 }], FONT_SANS, '#cc2a12', 'left'));
push(runs(1794, 1081, [{ t: 'sets w/ SH0ES', s: 73 }], FONT_SANS, '#cc2a12', 'left'));
push(runs(1794, 1166, [{ t: 'blue = all data', s: 73 }], FONT_SANS, '#0a63c2', 'left'));
push(runs(1794, 1251, [{ t: 'sets w/out SH0ES', s: 72 }], FONT_SANS, '#0a63c2', 'left'));

// Citation (left part runs off the page edge)
const CITE_SIZE = 57;
push(runs(12 - textWidth('JC', CITE_SIZE, FONT_SANS, false, true), 1651,
  [{ t: 'JCH', s: CITE_SIZE, bold: true }, { t: '+ (2020)', s: CITE_SIZE }], FONT_SANS, '#1a6dcc', 'left'));

// ---------------------------------------------------------------------------
const chart = echarts.init(document.getElementById('chart'), null, { renderer: 'canvas' });
chart.setOption({
  animation: false,
  backgroundColor: '#ffffff',
  grid: grids,
  xAxis: xAxes,
  yAxis: yAxes,
  series: series,
  graphic: { elements: graphics }
});
</script>
</body>
</html>
